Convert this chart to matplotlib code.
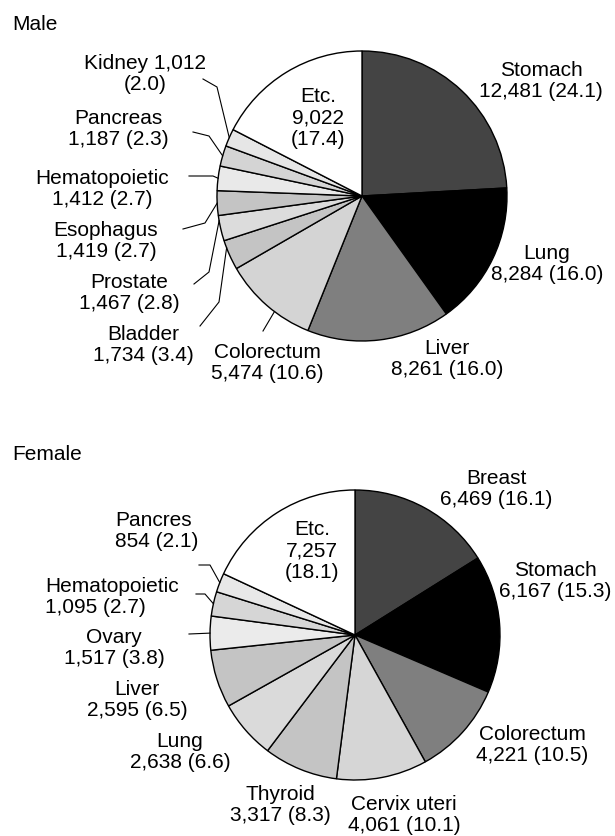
import numpy as np
import matplotlib
matplotlib.use('Agg')
import matplotlib.pyplot as plt

plt.rcParams['font.family'] = ['Liberation Sans', 'DejaVu Sans']

# Male: cases (percent)
male_sites = ['Stomach', 'Lung', 'Liver', 'Colorectum', 'Bladder', 'Prostate',
              'Esophagus', 'Hematopoietic', 'Pancreas', 'Kidney', 'Etc.']
male_cases = [12481, 8284, 8261, 5474, 1734, 1467, 1419, 1412, 1187, 1012, 9022]
male_pct = [24.1, 16.0, 16.0, 10.6, 3.4, 2.8, 2.7, 2.7, 2.3, 2.0, 17.4]

# Female: cases (percent)
female_sites = ['Breast', 'Stomach', 'Colorectum', 'Cervix uteri', 'Thyroid',
                'Lung', 'Liver', 'Ovary', 'Hematopoietic', 'Pancres', 'Etc.']
female_cases = [6469, 6167, 4221, 4061, 3317, 2638, 2595, 1517, 1095, 854, 7257]
female_pct = [16.1, 15.3, 10.5, 10.1, 8.3, 6.6, 6.5, 3.8, 2.7, 2.1, 18.1]

male_colors = ['#444444', '#000000', '#7f7f7f', '#d4d4d4', '#c4c4c4', '#dcdcdc',
               '#c4c4c4', '#e9e9e9', '#d4d4d4', '#e6e6e6', '#ffffff']
female_colors = ['#444444', '#000000', '#7f7f7f', '#d6d6d6', '#c4c4c4', '#dadada',
                 '#c4c4c4', '#ebebeb', '#d6d6d6', '#e8e8e8', '#ffffff']

H = 837
R = 145
FS = 15

fig = plt.figure(figsize=(6.15, 8.37), dpi=100)
ax = fig.add_axes([0, 0, 1, 1])


def label_text(name, n, p):
    if name == 'Etc.':
        return 'Etc.\n{:,}\n({:.1f})'.format(n, p)
    if name == 'Kidney':
        return '{} {:,}\n({:.1f})'.format(name, n, p)
    return '{}\n{:,} ({:.1f})'.format(name, n, p)


def draw_pie(cases, pcts, names, colors, center, pos, leaders):
    cx, cy = center
    ax.pie(cases, colors=colors, startangle=90, counterclock=False,
           radius=R, center=(cx, cy),
           wedgeprops=dict(edgecolor='black', linewidth=1.0))
    total = float(sum(cases))
    cum = np.concatenate([[0], np.cumsum(cases)]) / total
    for i, name in enumerate(names):
        x, y, ha = pos[name]
        ax.text(x, H - y, label_text(name, cases[i], pcts[i]), ha=ha,
                va='center', multialignment=ha, fontsize=FS, linespacing=1.15)
        if name in leaders:
            pts, frac = leaders[name]
            a0 = 90 - 360 * cum[i]
            a1 = 90 - 360 * cum[i + 1]
            ang = np.radians(a1 + frac * (a0 - a1))
            xs = [p[0] for p in pts] + [cx + R * np.cos(ang)]
            ys = [H - p[1] for p in pts] + [cy + R * np.sin(ang)]
            ax.plot(xs, ys, color='black', linewidth=0.8)


male_pos = {
    'Stomach': (541, 81, 'center'), 'Lung': (547, 264, 'center'),
    'Liver': (447, 359, 'center'), 'Colorectum': (267, 363, 'center'),
    'Bladder': (143, 345, 'center'), 'Prostate': (129, 293, 'center'),
    'Esophagus': (106, 241, 'center'), 'Hematopoietic': (102, 189, 'center'),
    'Pancreas': (118, 129, 'center'), 'Kidney': (145, 74, 'center'),
    'Etc.': (318, 118, 'center'),
}
male_leaders = {
    'Kidney': ([(203, 80), (217, 88)], 0.5),
    'Pancreas': ([(193, 133), (209, 137)], 0.5),
    'Hematopoietic': ([(189, 177), (213, 177)], 0.5),
    'Esophagus': ([(183, 230), (205, 224)], 0.5),
    'Prostate': ([(194, 285), (209, 273)], 0.2),
    'Bladder': ([(200, 327), (219, 303)], 0.25),
    'Colorectum': ([(263, 332)], 0.6),
}

female_pos = {
    'Breast': (496, 489, 'center'), 'Stomach': (555, 581, 'center'),
    'Colorectum': (532, 745, 'center'), 'Cervix uteri': (404, 815, 'center'),
    'Thyroid': (280, 805, 'center'), 'Lung': (180, 752, 'center'),
    'Liver': (137, 700, 'center'), 'Ovary': (114, 648, 'center'),
    'Hematopoietic': (45, 597, 'left'), 'Pancres': (115, 531, 'left'),
    'Etc.': (312, 551, 'center'),
}
female_leaders = {
    'Pancres': ([(199, 566), (210, 566)], 0.5),
    'Hematopoietic': ([(196, 595), (205, 595)], 0.5),
    'Ovary': ([(189, 635)], 0.5),
}

draw_pie(male_cases, male_pct, male_sites, male_colors, (362, H - 197),
         male_pos, male_leaders)
draw_pie(female_cases, female_pct, female_sites, female_colors, (355, H - 636),
         female_pos, female_leaders)

ax.text(12, H - 30, 'Male', fontsize=FS, ha='left', va='baseline')
ax.text(12, H - 460, 'Female', fontsize=FS, ha='left', va='baseline')

ax.set_xlim(0, 615)
ax.set_ylim(0, H)
ax.set_aspect('auto')
ax.axis('off')

fig.savefig('out.png', dpi=100)
